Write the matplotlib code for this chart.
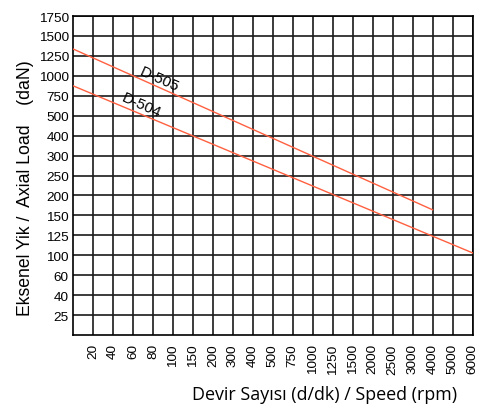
import matplotlib
matplotlib.use("Agg")
import matplotlib.pyplot as plt
import numpy as np

# axis categories (non-uniform, one grid cell each)
speeds = [20, 40, 60, 80, 100, 150, 200, 300, 400, 500, 750, 1000,
          1250, 1500, 2000, 2500, 3000, 4000, 5000, 6000]
loads = [25, 40, 60, 100, 125, 150, 200, 250, 300, 400, 500, 750,
         1000, 1250, 1500, 1750]

# curves: speed (0 = left edge of chart), load in daN
d505_speed = [0, 4000]
d505_load = [1337, 164]
d504_speed = [0, 6000]
d504_load = [875, 103]


def xpos(v):
    return np.interp(v, [0] + speeds, np.arange(len(speeds) + 1))


def ypos(v):
    return np.interp(v, [0] + loads, np.arange(len(loads) + 1))


plt.rcParams['font.family'] = ['Liberation Sans', 'DejaVu Sans']

fig = plt.figure(figsize=(4.94, 4.06), dpi=100)
ax = fig.add_axes([73 / 494, 70 / 406, 399.5 / 494, 319 / 406])

ax.set_xlim(0, len(speeds))
ax.set_ylim(0, len(loads))
ax.set_xticks(np.arange(1, len(speeds) + 1))
ax.set_xticklabels([str(s) for s in speeds], rotation=90, fontsize=9.7)
ax.set_yticks(np.arange(1, len(loads) + 1))
ax.set_yticklabels([str(l) for l in loads], fontsize=9.7)
ax.tick_params(length=0)
ax.tick_params(axis='x', pad=6)
ax.tick_params(axis='y', pad=3)
ax.grid(True, color='#1a1a1a', linewidth=1.2)
for s in ax.spines.values():
    s.set_color('black')
    s.set_linewidth(1.2)

red = '#ff6040'
ax.plot(xpos(d505_speed), ypos(d505_load), color=red, lw=1, zorder=3)
ax.plot(xpos(d504_speed), ypos(d504_load), color=red, lw=1, zorder=3)

ax.text(4.3, 12.85, 'D-505', rotation=-24, fontsize=11, ha='center', va='center')
ax.text(3.4, 11.55, 'D-504', rotation=-24, fontsize=11, ha='center', va='center')

fig.text(25 / 494, 1 - 188 / 406, 'Eksenel Yik /  Axial Load    (daN)',
         rotation=90, fontsize=12.7, ha='center', va='center')
fig.text(325 / 494, 1 - 395 / 406, 'Devir Sayısı (d/dk) / Speed (rpm)',
         fontsize=12.9, ha='center', va='center', family=['Open Sans', 'DejaVu Sans'])

fig.savefig('out.png', dpi=100)
